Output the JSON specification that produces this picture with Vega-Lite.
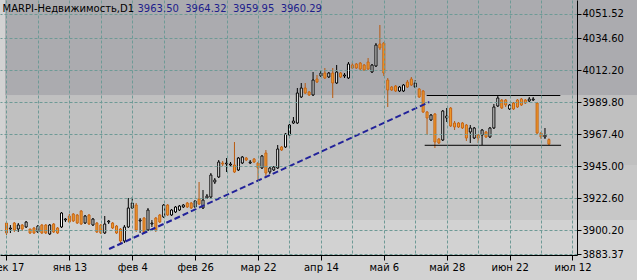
{
  "$schema": "https://vega.github.io/schema/vega-lite/v6.json",
  "width": 577,
  "height": 255,
  "autosize": {"type": "none"},
  "padding": {"left": 0, "top": 0, "right": 60, "bottom": 25},
  "background": "#D2D2D2",
  "config": {
    "view": {"stroke": null},
    "font": "DejaVu Sans"
  },
  "datasets": {
    "bands": [
      {"zone": "A", "top": 4080, "bottom": 3994.35},
      {"zone": "B", "top": 3994.35, "bottom": 3945.7},
      {"zone": "C", "top": 3945.7, "bottom": 3907.2},
      {"zone": "D", "top": 3907.2, "bottom": 3850}
    ],
    "candles": [
      {"i":0,"o":3905.1,"h":3905.8,"l":3896.7,"c":3898.1},
      {"i":1,"o":3900.9,"h":3903.7,"l":3898.1,"c":3901.6},
      {"i":2,"o":3905.1,"h":3905.8,"l":3898.8,"c":3900.2},
      {"i":3,"o":3900.9,"h":3905.1,"l":3898.8,"c":3903.7},
      {"i":4,"o":3903.7,"h":3904.4,"l":3899.5,"c":3900.9},
      {"i":5,"o":3902.3,"h":3906.5,"l":3901.6,"c":3905.8},
      {"i":6,"o":3900.9,"h":3900.9,"l":3897.4,"c":3898.1},
      {"i":7,"o":3901.6,"h":3902.3,"l":3897.4,"c":3898.1},
      {"i":8,"o":3898.8,"h":3903.7,"l":3898.1,"c":3903.0},
      {"i":9,"o":3903.7,"h":3904.4,"l":3897.4,"c":3898.1},
      {"i":10,"o":3903.7,"h":3904.4,"l":3897.4,"c":3898.1},
      {"i":11,"o":3897.4,"h":3904.4,"l":3896.7,"c":3903.7},
      {"i":12,"o":3904.4,"h":3905.1,"l":3898.1,"c":3898.8},
      {"i":13,"o":3901.6,"h":3902.3,"l":3897.4,"c":3898.1},
      {"i":14,"o":3902.3,"h":3912.8,"l":3901.6,"c":3912.1},
      {"i":15,"o":3907.2,"h":3908.6,"l":3905.8,"c":3907.9},
      {"i":16,"o":3910.0,"h":3911.4,"l":3905.1,"c":3905.8},
      {"i":17,"o":3911.4,"h":3912.1,"l":3905.8,"c":3906.5},
      {"i":18,"o":3910.7,"h":3911.4,"l":3904.4,"c":3905.1},
      {"i":19,"o":3913.5,"h":3914.2,"l":3903.7,"c":3904.4},
      {"i":20,"o":3905.1,"h":3910.7,"l":3904.4,"c":3910.0},
      {"i":21,"o":3910.7,"h":3911.4,"l":3903.7,"c":3904.4},
      {"i":22,"o":3903.7,"h":3908.6,"l":3903.0,"c":3907.9},
      {"i":23,"o":3905.1,"h":3905.8,"l":3898.1,"c":3898.8},
      {"i":24,"o":3903.7,"h":3904.4,"l":3897.4,"c":3898.1},
      {"i":25,"o":3898.1,"h":3910.0,"l":3897.4,"c":3904.4},
      {"i":26,"o":3905.8,"h":3907.2,"l":3904.4,"c":3906.5},
      {"i":27,"o":3905.1,"h":3905.8,"l":3900.9,"c":3901.6},
      {"i":28,"o":3903.0,"h":3903.7,"l":3897.4,"c":3898.1},
      {"i":29,"o":3900.9,"h":3901.6,"l":3891.1,"c":3892.5},
      {"i":30,"o":3892.5,"h":3903.7,"l":3891.1,"c":3902.3},
      {"i":31,"o":3902.3,"h":3922.6,"l":3901.6,"c":3915.6},
      {"i":32,"o":3915.6,"h":3923.3,"l":3914.9,"c":3919.1},
      {"i":33,"o":3917.7,"h":3919.1,"l":3898.8,"c":3900.2},
      {"i":34,"o":3906.5,"h":3908.6,"l":3898.1,"c":3907.2},
      {"i":35,"o":3908.6,"h":3909.3,"l":3898.1,"c":3898.8},
      {"i":36,"o":3900.2,"h":3915.6,"l":3899.5,"c":3914.2},
      {"i":37,"o":3904.4,"h":3907.2,"l":3902.3,"c":3905.1},
      {"i":38,"o":3908.6,"h":3909.3,"l":3898.8,"c":3900.2},
      {"i":39,"o":3910.7,"h":3911.4,"l":3905.1,"c":3905.8},
      {"i":40,"o":3909.3,"h":3918.4,"l":3908.6,"c":3917.7},
      {"i":41,"o":3917.7,"h":3918.4,"l":3910.0,"c":3910.7},
      {"i":42,"o":3910.7,"h":3914.9,"l":3910.0,"c":3914.2},
      {"i":43,"o":3912.8,"h":3917.0,"l":3912.1,"c":3916.3},
      {"i":44,"o":3914.2,"h":3917.7,"l":3913.5,"c":3917.0},
      {"i":45,"o":3916.3,"h":3918.4,"l":3915.6,"c":3917.7},
      {"i":46,"o":3919.1,"h":3919.8,"l":3915.6,"c":3916.3},
      {"i":47,"o":3919.1,"h":3919.8,"l":3914.9,"c":3915.6},
      {"i":48,"o":3916.3,"h":3921.2,"l":3915.6,"c":3920.5},
      {"i":49,"o":3921.9,"h":3933.8,"l":3917.7,"c":3918.4},
      {"i":50,"o":3915.6,"h":3928.2,"l":3914.9,"c":3921.2},
      {"i":51,"o":3922.6,"h":3925.4,"l":3921.9,"c":3924.0},
      {"i":52,"o":3923.3,"h":3940.1,"l":3922.6,"c":3938.7},
      {"i":53,"o":3933.8,"h":3936.6,"l":3932.4,"c":3935.2},
      {"i":54,"o":3937.3,"h":3949.2,"l":3936.6,"c":3947.8},
      {"i":55,"o":3947.1,"h":3948.5,"l":3945.0,"c":3946.4},
      {"i":56,"o":3946.4,"h":3950.6,"l":3940.8,"c":3947.1},
      {"i":57,"o":3945.7,"h":3947.8,"l":3945.0,"c":3946.4},
      {"i":58,"o":3945.7,"h":3961.8,"l":3940.1,"c":3940.8},
      {"i":59,"o":3942.2,"h":3951.3,"l":3941.5,"c":3950.6},
      {"i":60,"o":3947.1,"h":3952.0,"l":3946.4,"c":3951.3},
      {"i":61,"o":3950.6,"h":3951.3,"l":3948.5,"c":3949.2},
      {"i":62,"o":3947.1,"h":3949.2,"l":3946.4,"c":3947.8},
      {"i":63,"o":3949.9,"h":3950.6,"l":3947.1,"c":3947.8},
      {"i":64,"o":3947.1,"h":3947.8,"l":3933.8,"c":3943.6},
      {"i":65,"o":3943.6,"h":3952.7,"l":3942.9,"c":3952.0},
      {"i":66,"o":3954.1,"h":3956.2,"l":3936.6,"c":3940.1},
      {"i":67,"o":3940.8,"h":3944.3,"l":3939.4,"c":3943.6},
      {"i":68,"o":3942.2,"h":3945.0,"l":3941.5,"c":3944.3},
      {"i":69,"o":3943.6,"h":3959.7,"l":3942.9,"c":3956.9},
      {"i":70,"o":3958.3,"h":3959.0,"l":3955.5,"c":3956.2},
      {"i":71,"o":3958.3,"h":3968.1,"l":3957.6,"c":3967.4},
      {"i":72,"o":3966.7,"h":3974.4,"l":3966.0,"c":3973.7},
      {"i":73,"o":3975.1,"h":3979.3,"l":3974.4,"c":3976.5},
      {"i":74,"o":3975.1,"h":3999.6,"l":3974.4,"c":3996.1},
      {"i":75,"o":3993.3,"h":4003.1,"l":3992.6,"c":3999.6},
      {"i":76,"o":3999.6,"h":4003.1,"l":3995.4,"c":3996.1},
      {"i":77,"o":3996.8,"h":3997.5,"l":3994.0,"c":3994.7},
      {"i":78,"o":3994.7,"h":4010.8,"l":3994.0,"c":4005.2},
      {"i":79,"o":4005.9,"h":4008.7,"l":4003.1,"c":4003.8},
      {"i":80,"o":4008.0,"h":4012.2,"l":4007.3,"c":4010.1},
      {"i":81,"o":4010.1,"h":4013.6,"l":4005.9,"c":4006.6},
      {"i":82,"o":4007.3,"h":4010.8,"l":4006.6,"c":4010.1},
      {"i":83,"o":4010.1,"h":4013.6,"l":3992.6,"c":4003.1},
      {"i":84,"o":4003.1,"h":4015.7,"l":4002.4,"c":4010.8},
      {"i":85,"o":4010.1,"h":4010.8,"l":4006.6,"c":4007.3},
      {"i":86,"o":4008.0,"h":4010.1,"l":4006.6,"c":4008.7},
      {"i":87,"o":4006.6,"h":4017.8,"l":4005.9,"c":4016.4},
      {"i":88,"o":4015.7,"h":4017.8,"l":4012.9,"c":4013.6},
      {"i":89,"o":4016.4,"h":4017.1,"l":4012.9,"c":4013.6},
      {"i":90,"o":4017.1,"h":4017.8,"l":4012.2,"c":4012.9},
      {"i":91,"o":4015.7,"h":4016.4,"l":4011.5,"c":4012.2},
      {"i":92,"o":4017.8,"h":4020.6,"l":4012.2,"c":4012.9},
      {"i":93,"o":4010.8,"h":4016.4,"l":4010.1,"c":4015.7},
      {"i":94,"o":4015.0,"h":4031.1,"l":4014.3,"c":4029.7},
      {"i":95,"o":4030.4,"h":4043.7,"l":4026.2,"c":4027.6},
      {"i":96,"o":4031.1,"h":4031.8,"l":4008.0,"c":4010.1},
      {"i":97,"o":4005.2,"h":4006.6,"l":3986.3,"c":3998.2},
      {"i":98,"o":4000.3,"h":4001.0,"l":3997.5,"c":3998.2},
      {"i":99,"o":4001.0,"h":4001.7,"l":3996.8,"c":3997.5},
      {"i":100,"o":3997.5,"h":4001.0,"l":3996.8,"c":4000.3},
      {"i":101,"o":3997.5,"h":4002.4,"l":3996.8,"c":4001.7},
      {"i":102,"o":4003.8,"h":4005.2,"l":3999.6,"c":4000.3},
      {"i":103,"o":4005.9,"h":4007.3,"l":4001.0,"c":4001.7},
      {"i":104,"o":4000.3,"h":4005.2,"l":3999.6,"c":4003.1},
      {"i":105,"o":3998.9,"h":3999.6,"l":3992.6,"c":3993.3},
      {"i":106,"o":3997.5,"h":3998.2,"l":3982.1,"c":3982.8},
      {"i":107,"o":3982.8,"h":3983.5,"l":3966.7,"c":3978.6},
      {"i":108,"o":3977.2,"h":3981.4,"l":3976.5,"c":3980.7},
      {"i":109,"o":3981.4,"h":3982.1,"l":3957.6,"c":3961.8},
      {"i":110,"o":3963.9,"h":3964.6,"l":3960.4,"c":3961.1},
      {"i":111,"o":3963.2,"h":3984.2,"l":3962.5,"c":3983.5},
      {"i":112,"o":3978.6,"h":3985.6,"l":3975.8,"c":3980.0},
      {"i":113,"o":3985.6,"h":3986.3,"l":3972.3,"c":3973.0},
      {"i":114,"o":3975.1,"h":3976.5,"l":3970.2,"c":3972.3},
      {"i":115,"o":3975.1,"h":3975.8,"l":3971.6,"c":3972.3},
      {"i":116,"o":3975.1,"h":3975.8,"l":3970.9,"c":3971.6},
      {"i":117,"o":3973.7,"h":3974.4,"l":3962.5,"c":3964.6},
      {"i":118,"o":3968.8,"h":3973.7,"l":3961.1,"c":3971.6},
      {"i":119,"o":3964.6,"h":3972.3,"l":3963.9,"c":3971.6},
      {"i":120,"o":3966.7,"h":3967.4,"l":3961.1,"c":3964.6},
      {"i":121,"o":3966.7,"h":3970.9,"l":3959.7,"c":3970.2},
      {"i":122,"o":3968.8,"h":3969.5,"l":3964.6,"c":3965.3},
      {"i":123,"o":3965.3,"h":3972.3,"l":3964.6,"c":3971.6},
      {"i":124,"o":3971.6,"h":3988.4,"l":3970.9,"c":3986.3},
      {"i":125,"o":3987.0,"h":3994.0,"l":3986.3,"c":3992.6},
      {"i":126,"o":3991.2,"h":3991.9,"l":3984.9,"c":3985.6},
      {"i":127,"o":3991.2,"h":3991.9,"l":3986.3,"c":3987.7},
      {"i":128,"o":3984.9,"h":3988.4,"l":3984.2,"c":3987.7},
      {"i":129,"o":3989.1,"h":3989.8,"l":3984.2,"c":3984.9},
      {"i":130,"o":3991.2,"h":3991.9,"l":3985.6,"c":3986.3},
      {"i":131,"o":3991.9,"h":3992.6,"l":3987.0,"c":3987.7},
      {"i":132,"o":3991.2,"h":3991.9,"l":3988.4,"c":3989.1},
      {"i":133,"o":3990.5,"h":3993.3,"l":3989.8,"c":3991.9},
      {"i":134,"o":3991.2,"h":3993.3,"l":3990.5,"c":3991.9},
      {"i":135,"o":3989.1,"h":3989.8,"l":3967.4,"c":3968.1},
      {"i":136,"o":3968.1,"h":3968.8,"l":3963.9,"c":3965.3},
      {"i":137,"o":3965.3,"h":3971.6,"l":3963.9,"c":3966.7},
      {"i":138,"o":3963.50,"h":3964.32,"l":3959.95,"c":3960.29}
    ],
    "trendline": [
      {"x1": 26.1, "y1": 3886.9, "x2": 107.6, "y2": 3989.8}
    ],
    "levels": [
      {"x1": 106.9, "x2": 140.9, "price": 3994.35},
      {"x1": 106.4, "x2": 141.1, "price": 3959.5}
    ]
  },
  "layer": [
    {
      "data": {"name": "bands"},
      "mark": {"type": "rect", "clip": false},
      "encoding": {
        "x": {
          "datum": -0.375, "type": "quantitative",
          "scale": {"domain": [-0.375, 143.875], "nice": false, "zero": false},
          "axis": {
            "orient": "bottom",
            "values": [0,8,16,24,32,40,48,56,64,72,80,88,96,104,112,120,128,136,144],
            "tickCount": 100,
            "labelExpr": "datum.value % 16 == 0 ? ['дек 17','янв 13','фев 4','фев 26','мар 22','апр 14','май 6','май 28','июн 22','июл 12'][datum.value / 16] : ''",
            "labelOverlap": false, "labelFlush": false, "labelBound": false,
            "labelFont": "DejaVu Sans", "labelFontSize": 10, "labelColor": "#000000", "labelPadding": 2,
            "tickSize": 5, "tickColor": "#000000",
            "tickOpacity": {"condition": {"test": "datum.value % 16 != 0", "value": 0}, "value": 1},
            "domainColor": "#000000", "domainWidth": 1,
            "grid": true, "gridColor": "#6E9A96", "gridDash": [3, 2], "gridWidth": 1,
            "title": "3963.50\u00a0 3964.32\u00a0 3959.95\u00a0 3960.29",
            "titleX": 137, "titleY": -244, "titleAlign": "left", "titleBaseline": "alphabetic", "titleAngle": 0,
            "titleFont": "DejaVu Sans", "titleFontSize": 10, "titleFontWeight": "normal", "titleColor": "#1E1E8C",
            "zindex": 1
          }
        },
        "x2": {"datum": 170},
        "y": {
          "field": "top", "type": "quantitative",
          "scale": {"domain": [3882.7, 4061.2], "nice": false, "zero": false},
          "axis": {
            "orient": "right",
            "values": [4051.52, 4034.6, 4012.2, 3989.8, 3967.4, 3945.0, 3922.6, 3900.2, 3883.37],
            "tickCount": 100,
            "format": ".2f",
            "labelFont": "DejaVu Sans", "labelFontSize": 10, "labelColor": "#000000", "labelPadding": 1,
            "labelOverlap": false, "labelBound": false, "labelFlush": false,
            "tickSize": 4, "tickColor": "#000000",
            "domainColor": "#000000", "domainWidth": 1,
            "grid": true, "gridColor": "#6E9A96", "gridDash": [3, 2], "gridWidth": 1,
            "title": "MARPI-Недвижимость,D1",
            "titleX": -575, "titleY": 11, "titleAngle": 0, "titleAlign": "left", "titleBaseline": "alphabetic",
            "titleFont": "DejaVu Sans", "titleFontSize": 10, "titleFontWeight": "normal", "titleColor": "#000000",
            "zindex": 1
          }
        },
        "y2": {"field": "bottom"},
        "color": {
          "field": "zone", "type": "nominal",
          "scale": {"domain": ["A", "B", "C", "D"], "range": ["#ABABAF", "#C0C0C0", "#C7C7C7", "#D2D2D2"]},
          "legend": null
        }
      }
    },
    {
      "data": {"name": "candles"},
      "mark": {"type": "rule", "strokeWidth": 1},
      "encoding": {
        "x": {"field": "i", "type": "quantitative"},
        "y": {"field": "l", "type": "quantitative"},
        "y2": {"field": "h"},
        "color": {"condition": {"test": "datum.c >= datum.o", "value": "#000000"}, "value": "#B85A10"}
      }
    },
    {
      "data": {"name": "candles"},
      "mark": {"type": "bar", "width": 2, "strokeWidth": 1},
      "encoding": {
        "x": {"field": "i", "type": "quantitative"},
        "y": {"field": "o", "type": "quantitative"},
        "y2": {"field": "c"},
        "fill": {"condition": {"test": "datum.c >= datum.o", "value": "#FFFFFF"}, "value": "#F0A030"},
        "stroke": {"condition": {"test": "datum.c >= datum.o", "value": "#000000"}, "value": "#C86414"}
      }
    },
    {
      "data": {"name": "trendline"},
      "mark": {"type": "rule", "strokeWidth": 2, "strokeDash": [6, 3], "color": "#22229A"},
      "encoding": {
        "x": {"field": "x1", "type": "quantitative"},
        "x2": {"field": "x2"},
        "y": {"field": "y1", "type": "quantitative"},
        "y2": {"field": "y2"}
      }
    },
    {
      "data": {"name": "levels"},
      "mark": {"type": "rule", "strokeWidth": 1, "color": "#000000"},
      "encoding": {
        "x": {"field": "x1", "type": "quantitative"},
        "x2": {"field": "x2"},
        "y": {"field": "price", "type": "quantitative"}
      }
    }
  ]
}
